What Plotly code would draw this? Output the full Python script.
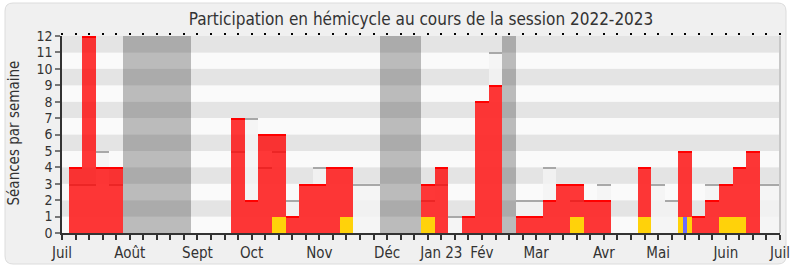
import plotly.graph_objects as go

# ---------------- data (one value per week, week 0 = start of July 2022) ----
weeks = list(range(54))
presence = [0, 4, 12, 4, 4, 0, 0, 0, 0, 0,
            0, 0, 0, 7, 2, 6, 6, 1, 3, 3,
            4, 4, 0, 0, 0, 0, 0, 3, 4, 0,
            1, 8, 9, 0, 1, 1, 2, 3, 3, 2,
            2, 0, 0, 4, 0, 0, 5, 1, 2, 3,
            4, 5, 0, 0]
mediane = [0, 3, 3, 5, 3, 0, 0, 0, 0, 0,
           0, 0, 0, 5, 7, 4, 5, 2, 3, 4,
           4, 4, 3, 3, 0, 0, 0, 2, 3, 1,
           1, 8, 11, 0, 2, 2, 4, 3, 2, 2,
           3, 0, 0, 4, 3, 2, 5, 1, 3, 3,
           4, 5, 3, 3]
interventions = [0, 0, 0, 0, 0, 0, 0, 0, 0, 0,
                 0, 0, 0, 0, 0, 0, 1, 0, 0, 0,
                 0, 1, 0, 0, 0, 0, 0, 1, 0, 0,
                 0, 0, 0, 0, 0, 0, 0, 0, 1, 0,
                 0, 0, 0, 1, 0, 0, 1, 0, 0, 1,
                 1, 0, 0, 0]
questions = [0] * 46 + [1] + [0] * 7
vacances = [5, 6, 7, 8, 9, 24, 25, 26, 33]
month_ticks = {0: "Juil", 5: "Août", 10: "Sept", 14: "Oct", 19: "Nov",
               24: "Déc", 28: "Jan 23", 31: "Fév", 35: "Mar", 40: "Avr",
               44: "Mai", 49: "Juin", 53: "Juil"}
y_max = 12
title = "Participation en hémicycle au cours de la session 2022-2023"
y_title = "Séances par semaine"

# ---------------- style ----------------
FONT = "DejaVu Sans Condensed, DejaVu Sans, sans-serif"
TXT = "#333333"
W, H = 790, 267
ML, MR, MT, MB = 62, 10, 36, 34
LINE_H = 0.08

def none0(v):
    return [x if x > 0 else None for x in v]

fig = go.Figure()

# vacation columns
vac_y = [y_max if w in vacances else None for w in weeks]
fig.add_bar(x=weeks, y=vac_y, width=1, marker=dict(color="rgba(0,0,0,0.25)", line_width=0),
            hoverinfo="skip", showlegend=False)

# median presence (light bars + grey top line)
fig.add_bar(x=weeks, y=none0(mediane), width=1,
            marker=dict(color="rgba(243,243,243,0.85)", line_width=0),
            hoverinfo="skip", showlegend=False)
fig.add_bar(x=weeks, y=[LINE_H if v > 0 else None for v in mediane],
            base=[v - LINE_H if v > 0 else None for v in mediane], width=1,
            marker=dict(color="#a8a8a8", line_width=0), hoverinfo="skip", showlegend=False)

# deputy presence (red bars + top line)
fig.add_bar(x=weeks, y=none0(presence), width=1,
            marker=dict(color="rgba(255,0,0,0.78)", line_width=0),
            hoverinfo="skip", showlegend=False)
fig.add_bar(x=weeks, y=[LINE_H if v > 0 else None for v in presence],
            base=[v - LINE_H if v > 0 else None for v in presence], width=1,
            marker=dict(color="#ff0000", line_width=0), hoverinfo="skip", showlegend=False)

# interventions (yellow) and questions (blue)
fig.add_bar(x=weeks, y=none0(interventions), width=1,
            marker=dict(color="#ffd20a", line_width=0), hoverinfo="skip", showlegend=False)
fig.add_bar(x=weeks, y=none0(questions), width=0.28,
            marker=dict(color="#6b6bff", line_width=0), hoverinfo="skip", showlegend=False)

# invisible trace so that the top (mirror) tick axis exists
fig.add_scatter(x=[0], y=[0], xaxis="x2", mode="markers", marker=dict(opacity=0),
                hoverinfo="skip", showlegend=False)

# horizontal bands
shapes = []
for i in range(y_max):
    shapes.append(dict(type="rect", xref="paper", yref="y", x0=0, x1=1, y0=i, y1=i + 1,
                       fillcolor="#fafafa" if i % 2 == 0 else "#e4e4e4",
                       line_width=0, layer="below"))

# rounded background panel
def px(xp):
    return (xp - ML) / (W - ML - MR)

def py(yp):
    return (H - MB - yp) / (H - MT - MB)

x0, x1, y0, y1, r = 5, 786, 3, 264, 8
path = (f"M {px(x0 + r)},{py(y0)} L {px(x1 - r)},{py(y0)} Q {px(x1)},{py(y0)} {px(x1)},{py(y0 + r)} "
        f"L {px(x1)},{py(y1 - r)} Q {px(x1)},{py(y1)} {px(x1 - r)},{py(y1)} "
        f"L {px(x0 + r)},{py(y1)} Q {px(x0)},{py(y1)} {px(x0)},{py(y1 - r)} "
        f"L {px(x0)},{py(y0 + r)} Q {px(x0)},{py(y0)} {px(x0 + r)},{py(y0)} Z")
shapes.insert(0, dict(type="path", xref="paper", yref="paper", path=path,
                      fillcolor="#f0f0f0", line=dict(color="#dcdcdc", width=1), layer="below"))
# right border of plot
shapes.append(dict(type="line", xref="paper", yref="paper", x0=1, x1=1, y0=0, y1=1,
                   line=dict(color="#c8c8c8", width=2), layer="above"))

fig.update_layout(
    width=W, height=H,
    margin=dict(l=ML, r=MR, t=MT, b=MB, pad=0, autoexpand=False),
    paper_bgcolor="white", plot_bgcolor="#fafafa",
    barmode="overlay", bargap=0,
    font=dict(family=FONT, color=TXT),
    title=dict(text=title, x=0.5, xref="paper", y=1 - 19 / H, yref="container",
               xanchor="center", yanchor="middle", font=dict(size=17, color=TXT, family=FONT)),
    shapes=shapes,
    annotations=[dict(text=y_title, textangle=-90, xref="paper", yref="paper",
                      x=px(13), y=py(133.5), xanchor="center", yanchor="middle",
                      showarrow=False, font=dict(size=15, color=TXT, family=FONT))],
    xaxis=dict(range=[0, 53], tickmode="array", tickvals=weeks,
               ticktext=[month_ticks.get(w, "") for w in weeks],
               ticks="outside", ticklen=5, tickwidth=1.5, tickcolor=TXT,
               showline=True, linecolor=TXT, linewidth=1.5, ticklabeloverflow="allow",
               automargin=False,
               showgrid=False, zeroline=False, tickfont=dict(size=15, color=TXT)),
    xaxis2=dict(range=[0, 53], overlaying="x", side="top", anchor="y", tickmode="array",
                tickvals=weeks, ticks="outside", ticklen=2, tickwidth=1.5, tickcolor="#000",
                showticklabels=False, showline=False, showgrid=False, zeroline=False,
                automargin=False),
    yaxis=dict(range=[0, y_max], tickmode="array", tickvals=list(range(y_max + 1)),
               ticks="outside", ticklen=5, tickwidth=2, tickcolor="#777777",
               showline=True, linecolor=TXT, linewidth=1.5, automargin=False,
               showgrid=False, zeroline=False, tickfont=dict(size=14, color=TXT)),
)

fig.write_html("out.html")
